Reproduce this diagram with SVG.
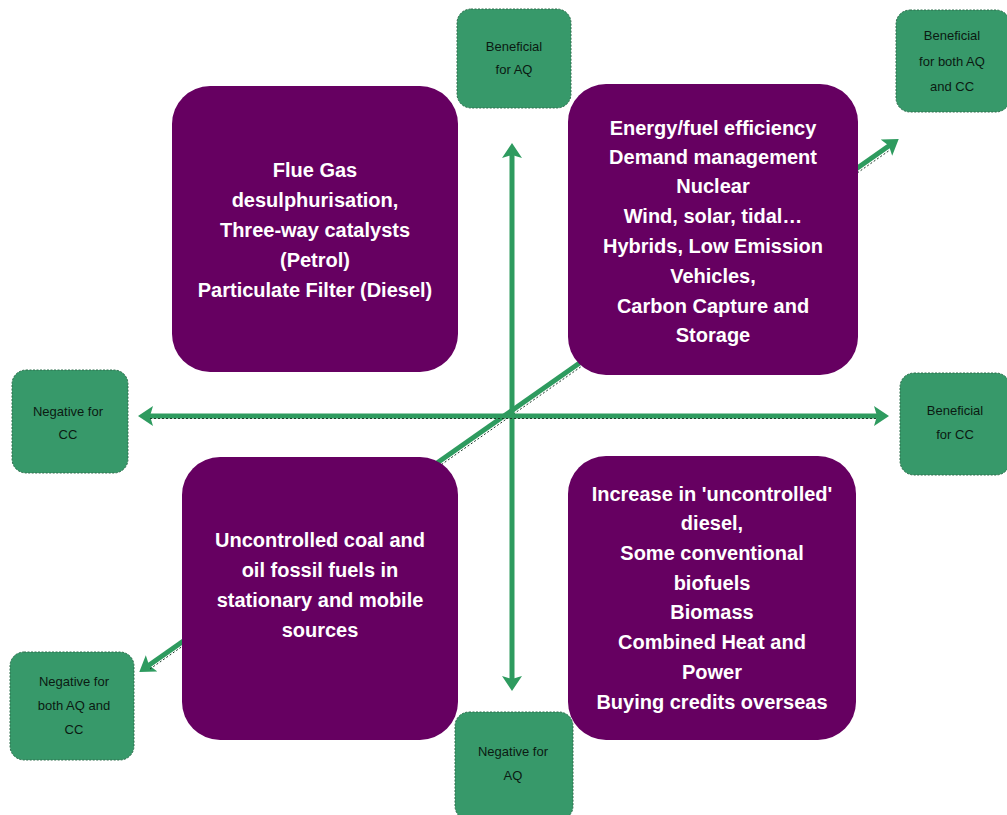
<svg xmlns="http://www.w3.org/2000/svg" width="1007" height="815" viewBox="0 0 1007 815">
<style>
.g{fill:#37996a;stroke:#2f6e4d;stroke-width:1;stroke-dasharray:2 1.5}
.p{fill:#660061}
.gt{font-family:"Liberation Sans",Arial,sans-serif;font-size:13px;fill:#0b1a12;text-anchor:middle}
.pt{font-family:"Liberation Sans",Arial,sans-serif;font-size:20px;font-weight:bold;fill:#ffffff;text-anchor:middle}
.ax{stroke:#2e9b5f;stroke-width:5;fill:none}
.axd{stroke:#1d3b2a;stroke-width:1;stroke-dasharray:2 2;fill:none}
</style>
<defs>
<marker id="ah" markerWidth="4" markerHeight="4" refX="1.6" refY="2" orient="auto-start-reverse" markerUnits="strokeWidth">
<path d="M0,0 L3,2 L0,4 L0.6,2 Z" fill="#2e9b5f"/>
</marker>
</defs>
<rect width="1007" height="815" fill="#ffffff"/>
<g id="connectors">
<line class="ax" x1="145" y1="668" x2="893" y2="143" marker-start="url(#ah)" marker-end="url(#ah)"/>
<line class="axd" x1="150" y1="669" x2="890" y2="150"/>
<line class="ax" x1="512" y1="150" x2="512" y2="684" marker-start="url(#ah)" marker-end="url(#ah)"/>
<line class="ax" x1="145" y1="416" x2="882" y2="416" marker-start="url(#ah)" marker-end="url(#ah)"/>
<line class="axd" x1="150" y1="418.5" x2="878" y2="418.5"/>
</g>
<g id="box-tl">
<rect class="p" x="172" y="86" width="286" height="286" rx="38"/>
<text class="pt" x="315" y="177">Flue Gas</text>
<text class="pt" x="315" y="207">desulphurisation,</text>
<text class="pt" x="315" y="237">Three-way catalysts</text>
<text class="pt" x="315" y="267">(Petrol)</text>
<text class="pt" x="315" y="297">Particulate Filter (Diesel)</text>
</g>
<g id="box-tr">
<rect class="p" x="568" y="84" width="290" height="291" rx="38"/>
<text class="pt" x="713" y="135">Energy/fuel efficiency</text>
<text class="pt" x="713" y="164">Demand management</text>
<text class="pt" x="713" y="193">Nuclear</text>
<text class="pt" x="713" y="223">Wind, solar, tidal…</text>
<text class="pt" x="713" y="253">Hybrids, Low Emission</text>
<text class="pt" x="713" y="283">Vehicles,</text>
<text class="pt" x="713" y="313">Carbon Capture and</text>
<text class="pt" x="713" y="342">Storage</text>
</g>
<g id="box-bl">
<rect class="p" x="182" y="457" width="276" height="283" rx="38"/>
<text class="pt" x="320" y="547">Uncontrolled coal and</text>
<text class="pt" x="320" y="577">oil fossil fuels in</text>
<text class="pt" x="320" y="607">stationary and mobile</text>
<text class="pt" x="320" y="637">sources</text>
</g>
<g id="box-br">
<rect class="p" x="568" y="456" width="288" height="284" rx="38"/>
<text class="pt" x="712" y="501">Increase in 'uncontrolled'</text>
<text class="pt" x="712" y="530">diesel,</text>
<text class="pt" x="712" y="560">Some conventional</text>
<text class="pt" x="712" y="590">biofuels</text>
<text class="pt" x="712" y="619">Biomass</text>
<text class="pt" x="712" y="649">Combined Heat and</text>
<text class="pt" x="712" y="679">Power</text>
<text class="pt" x="712" y="709">Buying credits overseas</text>
</g>
<g id="g-top">
<rect class="g" x="457" y="9" width="114" height="99" rx="14"/>
<text class="gt" x="514" y="51">Beneficial</text>
<text class="gt" x="514" y="74">for AQ</text>
</g>
<g id="g-topright">
<rect class="g" x="896" y="10" width="114" height="102" rx="14"/>
<text class="gt" x="952" y="40">Beneficial</text>
<text class="gt" x="952" y="66">for both AQ</text>
<text class="gt" x="952" y="91">and CC</text>
</g>
<g id="g-left">
<rect class="g" x="12" y="370" width="116" height="103" rx="14"/>
<text class="gt" x="68" y="416">Negative for</text>
<text class="gt" x="68" y="439">CC</text>
</g>
<g id="g-right">
<rect class="g" x="900" y="373" width="110" height="102" rx="14"/>
<text class="gt" x="955" y="415">Beneficial</text>
<text class="gt" x="955" y="439">for CC</text>
</g>
<g id="g-bottomleft">
<rect class="g" x="10" y="652" width="124" height="108" rx="14"/>
<text class="gt" x="74" y="686">Negative for</text>
<text class="gt" x="74" y="710">both AQ and</text>
<text class="gt" x="74" y="734">CC</text>
</g>
<g id="g-bottom">
<rect class="g" x="455" y="712" width="118" height="108" rx="14"/>
<text class="gt" x="513" y="756">Negative for</text>
<text class="gt" x="513" y="780">AQ</text>
</g>
</svg>
